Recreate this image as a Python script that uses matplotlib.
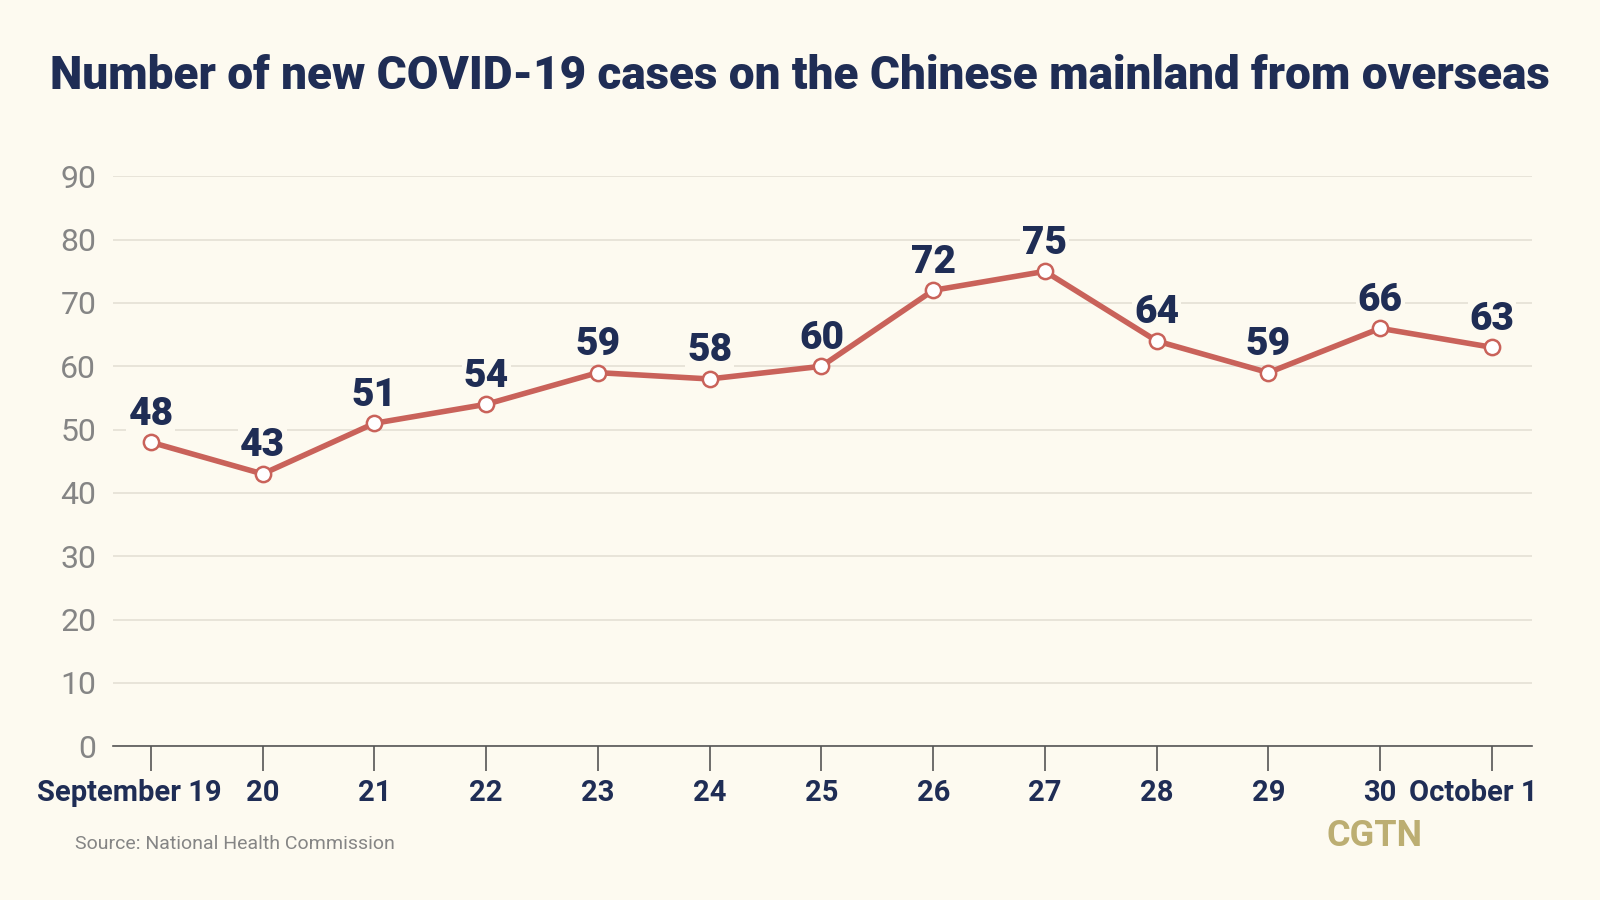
import matplotlib.pyplot as plt
from matplotlib.transforms import ScaledTranslation

# data
dates = ["September 19", "20", "21", "22", "23", "24", "25", "26", "27",
         "28", "29", "30", "October 1"]
cases = [48, 43, 51, 54, 59, 58, 60, 72, 75, 64, 59, 66, 63]
yticks = [0, 10, 20, 30, 40, 50, 60, 70, 80, 90]

bg = "#fdfaf0"
navy = "#1f2d55"
red = "#c9625a"
grey = "#858585"

plt.rcParams['font.family'] = ['Roboto', 'DejaVu Sans']

fig = plt.figure(figsize=(16, 9), dpi=100, facecolor=bg)
ax = fig.add_axes([0.0706, 0.171, 0.887, 0.633])
ax.set_facecolor(bg)

x = list(range(len(cases)))
ax.plot(x, cases, color=red, linewidth=4, zorder=3,
        marker='o', markersize=11, markerfacecolor='white',
        markeredgecolor=red, markeredgewidth=1.8)

# labels sit above the gridlines but under the line
for xi, v in zip(x, cases):
    ax.annotate(str(v), (xi, v), xytext=(0, 7), textcoords='offset points',
                ha='center', va='bottom', fontsize=28, fontweight='black',
                color=navy, zorder=2,
                bbox=dict(boxstyle='square,pad=0.05', fc=bg, ec='none'))

ax.set_xlim(-0.34, 12.36)
ax.set_ylim(0, 90)
ax.set_yticks(yticks)
ax.set_xticks(x)
ax.set_xticklabels(dates)
ax.grid(axis='y', color='#e4e0d5', linewidth=1.2, zorder=0)
ax.set_axisbelow(True)

for s in ['top', 'right', 'left']:
    ax.spines[s].set_visible(False)
ax.spines['bottom'].set_color('#555555')
ax.spines['bottom'].set_linewidth(1.2)

ax.tick_params(axis='y', length=0, pad=12, labelsize=23, labelcolor=grey)
ax.tick_params(axis='x', length=18, width=1.2, color='#555555', pad=6,
               labelsize=21, labelcolor=navy, direction='out')
for lbl in ax.get_xticklabels():
    lbl.set_fontweight('bold')
labels = ax.get_xticklabels()
labels[0].set_transform(labels[0].get_transform() + ScaledTranslation(-0.22, 0, fig.dpi_scale_trans))
labels[-1].set_transform(labels[-1].get_transform() + ScaledTranslation(-0.19, 0, fig.dpi_scale_trans))

fig.text(0.5, 0.916, "Number of new COVID-19 cases on the Chinese mainland from overseas",
         ha='center', va='center', fontsize=33, fontweight='black', color=navy)
fig.text(0.047, 0.062, "Source: National Health Commission", ha='left', va='center',
         fontsize=14, color=grey)
fig.text(0.859, 0.071, "CGTN", ha='center', va='center', fontsize=26,
         fontweight='bold', color='#bcae72')

fig.savefig("out.png", dpi=100, facecolor=bg)
